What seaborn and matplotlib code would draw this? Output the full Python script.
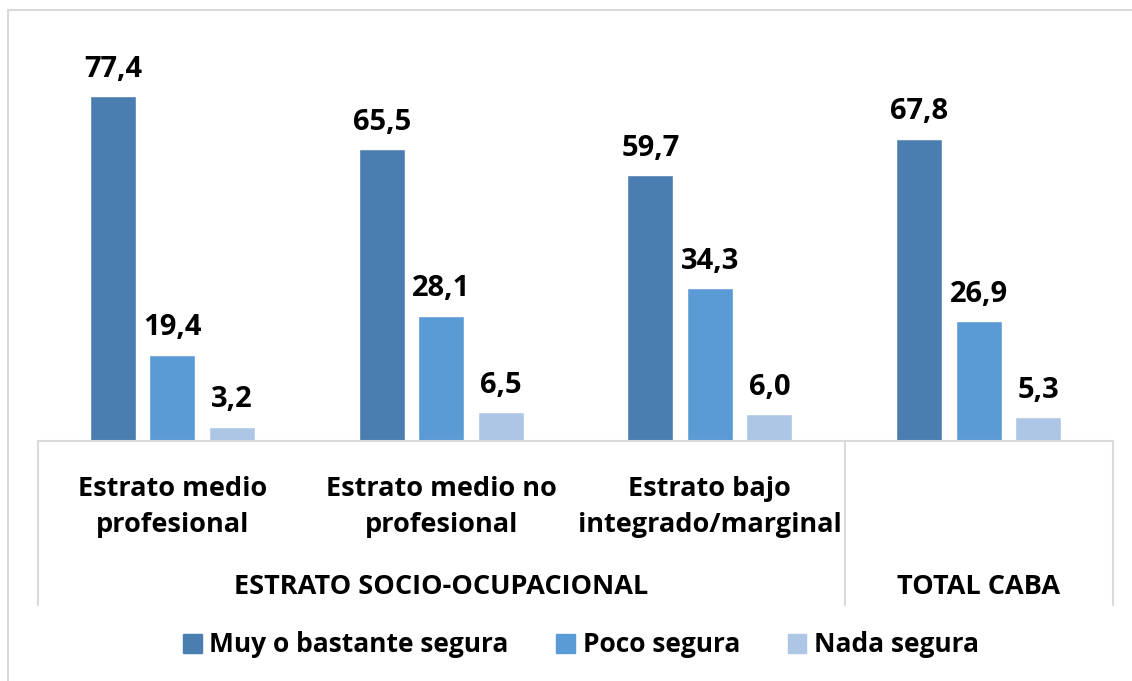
import matplotlib
matplotlib.use('Agg')
import matplotlib.pyplot as plt
from matplotlib.lines import Line2D
from matplotlib.patches import Rectangle
import seaborn as sns
import pandas as pd

# data
categorias = ['Estrato medio\nprofesional', 'Estrato medio no\nprofesional',
              'Estrato bajo\nintegrado/marginal', 'TOTAL CABA']
series = ['Muy o bastante segura', 'Poco segura', 'Nada segura']
muy_segura = [77.4, 65.5, 59.7, 67.8]
poco_segura = [19.4, 28.1, 34.3, 26.9]
nada_segura = [3.2, 6.5, 6.0, 5.3]
grupos = ['ESTRATO SOCIO-OCUPACIONAL', 'TOTAL CABA']
colores = ['#4A7EB0', '#5B9BD5', '#ADC6E6']

df = pd.DataFrame({
    'cat': categorias * 3,
    'serie': [s for s in series for _ in categorias],
    'val': muy_segura + poco_segura + nada_segura,
})

sns.set_style('white')
plt.rcParams['font.family'] = ['Open Sans', 'DejaVu Sans']
plt.rcParams['text.color'] = 'black'

fig = plt.figure(figsize=(11.32, 6.81), dpi=100)
ax = fig.add_axes([38/1132, 240/681, (1113-38)/1132, 401/681])

sns.barplot(data=df, x='cat', y='val', hue='serie', palette=colores,
            width=0.664, gap=0.227, saturation=1, ax=ax, legend=False)

for cont in ax.containers:
    labs = [f'{v:.1f}'.replace('.', ',') for v in cont.datavalues]
    ax.bar_label(cont, labels=labs, padding=9, fontsize=21, fontweight='bold',
                 color='black')

ax.set_xlim(-0.5, 3.5)
ax.set_ylim(0, 90)
ax.set_xlabel('')
ax.set_ylabel('')
ax.set_xticks([])
ax.set_yticks([])
for s in ['top', 'right', 'left']:
    ax.spines[s].set_visible(False)
ax.spines['bottom'].set_color('#D9D9D9')
ax.spines['bottom'].set_linewidth(1.5)

# category labels (two lines each)
for i, c in enumerate(categorias):
    if c == 'TOTAL CABA':
        continue
    x = (38 + (i + 0.5) * 268.75) / 1132
    fig.text(x, 1 - 507/681, c, ha='center', va='center', fontsize=19.5,
             fontweight='bold', linespacing=1.45)

# group labels
fig.text(441.5/1132, 1 - 587/681, grupos[0], ha='center', va='center',
         fontsize=19.5, fontweight='bold')
fig.text(979/1132, 1 - 587/681, grupos[1], ha='center', va='center',
         fontsize=19.5, fontweight='bold')

# separators of the multi-level axis
for xp in [38, 845, 1113]:
    fig.add_artist(Line2D([xp/1132, xp/1132], [1 - 441/681, 1 - 605/681],
                          color='#D9D9D9', lw=1.5))

# outer frame of the chart
fig.add_artist(Rectangle((8/1132, -0.05), 1.2, 1 - 10/681 + 0.05,
                         fill=False, edgecolor='#D9D9D9', lw=1.5))

handles = [Rectangle((0, 0), 1, 1, color=c) for c in colores]
fig.legend(handles, series, loc='center', bbox_to_anchor=(581/1132, 1 - 645/681),
           ncol=3, frameon=False, handlelength=0.7, handleheight=0.7,
           handletextpad=0.3, columnspacing=1.8,
           prop={'size': 19, 'weight': 'bold'})

fig.savefig('out.png', dpi=100)
